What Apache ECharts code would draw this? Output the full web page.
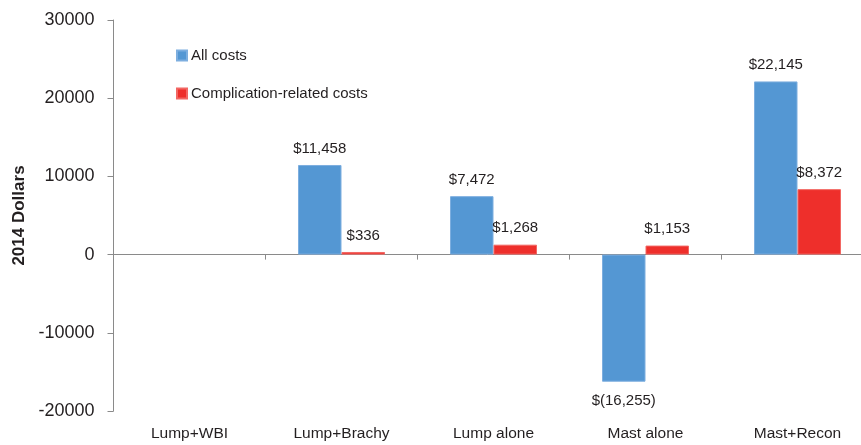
<!DOCTYPE html>
<html>
<head>
<meta charset="utf-8">
<script src="https://cdn.jsdelivr.net/npm/echarts@6/dist/echarts.min.js"></script>
<style>
html,body{margin:0;padding:0;background:#fff;}
#chart{width:861px;height:445px;}
</style>
</head>
<body>
<div id="chart"></div>
<script>
const categories = ['Lump+WBI', 'Lump+Brachy', 'Lump alone', 'Mast alone', 'Mast+Recon'];
const allCosts = [null, 11458, 7472, -16255, 22145];
const complicationCosts = [null, 336, 1268, 1153, 8372];
const seriesNames = ['All costs', 'Complication-related costs'];
const yTicks = { min: -20000, max: 30000, interval: 10000 };

const FONT = '"Liberation Sans", Arial, sans-serif';
const TXT = '#231F20';

function fmt(v) {
  const s = Math.abs(v).toLocaleString('en-US');
  return v < 0 ? '$(' + s + ')' : '$' + s;
}
function toData(arr) {
  return arr.map(v => v == null ? null : {
    value: v,
    label: { position: v < 0 ? 'bottom' : 'top', distance: v < 0 ? 12 : 9 }
  });
}

const chart = echarts.init(document.getElementById('chart'), null, { renderer: 'canvas' });
chart.setOption({
  animation: false,
  backgroundColor: '#fff',
  textStyle: { fontFamily: FONT },
  grid: { left: 113.5, top: 20, width: 760, height: 391, containLabel: false, outerBoundsMode: 'none' },
  legend: {
    orient: 'vertical',
    left: 176,
    top: 48,
    padding: 0,
    itemWidth: 10,
    itemHeight: 10,
    itemGap: 23,
    icon: 'rect',
    textStyle: { fontFamily: FONT, fontSize: 15, color: TXT, padding: [0, 0, 0, -1] },
    data: seriesNames
  },
  xAxis: [
    {
      type: 'category',
      data: categories,
      position: 'bottom',
      axisLine: { show: false, onZero: false },
      axisTick: { show: false },
      axisLabel: { fontFamily: FONT, fontSize: 15.5, color: TXT, margin: 15 }
    },
    {
      type: 'category',
      data: categories,
      position: 'top',
      axisLine: { show: true, onZero: true, lineStyle: { color: '#8a8a8a', width: 1 } },
      axisTick: { show: true, inside: true, length: 5, lineStyle: { color: '#8a8a8a' } },
      axisLabel: { show: false }
    }
  ],
  yAxis: {
    type: 'value',
    min: yTicks.min,
    max: yTicks.max,
    interval: yTicks.interval,
    name: '2014 Dollars',
    nameLocation: 'middle',
    nameGap: 81,
    nameTextStyle: { fontFamily: FONT, fontSize: 17, fontWeight: 'bold', color: TXT },
    axisLine: { show: true, lineStyle: { color: '#8a8a8a', width: 1 } },
    axisTick: { show: true, length: 6, lineStyle: { color: '#8a8a8a' } },
    splitLine: { show: false },
    axisLabel: { fontFamily: FONT, fontSize: 18, color: TXT, margin: 19, formatter: v => String(v) }
  },
  series: [
    {
      name: seriesNames[0],
      type: 'bar',
      xAxisIndex: 0,
      barWidth: 43.5,
      barGap: '0%',
      data: toData(allCosts),
      itemStyle: { color: '#5497D3', borderColor: '#7DAEDF', borderWidth: 1 },
      label: { show: true, fontFamily: FONT, fontSize: 15, color: TXT, formatter: p => fmt(p.value) }
    },
    {
      name: seriesNames[1],
      type: 'bar',
      xAxisIndex: 0,
      barWidth: 43.5,
      barGap: '0%',
      data: toData(complicationCosts),
      itemStyle: { color: '#EE2F2B', borderColor: '#F26763', borderWidth: 1 },
      label: { show: true, fontFamily: FONT, fontSize: 15, color: TXT, formatter: p => fmt(p.value) }
    }
  ]
});
</script>
</body>
</html>
